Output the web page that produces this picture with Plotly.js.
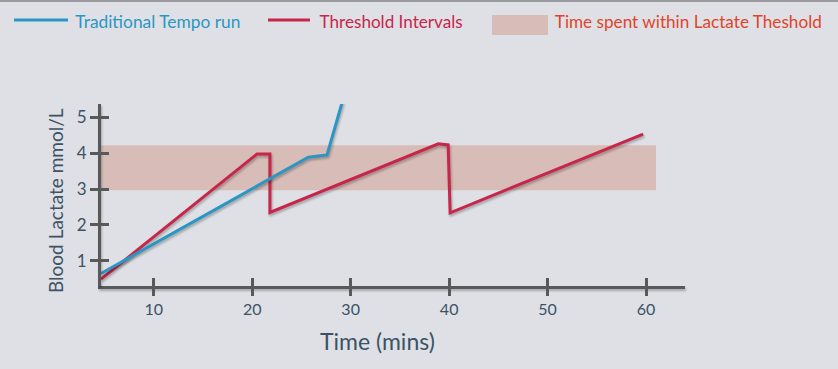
<!DOCTYPE html>
<html>
<head>
<meta charset="utf-8">
<script src="https://cdn.plot.ly/plotly-3.0.1.min.js"></script>
<style>
html,body{margin:0;padding:0;background:#dfe0e5;}
#chart{width:838px;height:369px;}
#chart .scatterlayer .trace path.js-line{filter:drop-shadow(1.5px 2px 1px rgba(0,0,0,0.28));}
#chart .xlines-above, #chart .ylines-above{filter:drop-shadow(1.5px 2px 1px rgba(0,0,0,0.25));}
</style>
</head>
<body>
<div id="chart"></div>
<script>
// Data
var tempoTime    = [4.65, 25.7, 27.6, 29.15];
var tempoLactate = [0.65, 3.885, 3.95, 5.43];

var intervalTime    = [4.65, 20.5, 21.8, 21.8, 38.9, 39.9, 40.1, 59.7];
var intervalLactate = [0.49, 3.98, 3.98, 2.35, 4.26, 4.23, 2.34, 4.53];

var bandTimeStart = 4.65, bandTimeEnd = 61.0;
var bandLactateLow = 2.97, bandLactateHigh = 4.22;

var xTicks = [10, 20, 30, 40, 50, 60];
var yTicks = [1, 2, 3, 4, 5];

var seriesNames = ['Traditional Tempo run', 'Threshold Intervals', 'Time spent within Lactate Theshold'];

var blue = '#2a96c4', red = '#c8254a', bandCol = '#d7bcb7', orange = '#e0442a';
var axisCol = '#58595b', textCol = '#3b5365';

var L = 101, R = 685, T = 104, B = 286, W = 838, H = 369;
function px(x){ return (x - L) / (R - L); }
function py(y){ return (B - y) / (B - T); }

var traces = [
  {x: intervalTime, y: intervalLactate, mode: 'lines', name: seriesNames[1],
   line: {color: red, width: 3}, hoverinfo: 'x+y'},
  {x: tempoTime, y: tempoLactate, mode: 'lines', name: seriesNames[0],
   line: {color: blue, width: 3}, hoverinfo: 'x+y'},
  {x: [], y: [], xaxis: 'x2', yaxis: 'y2', showlegend: false, hoverinfo: 'skip'}
];

var legendFont = "Lato, 'Open Sans', sans-serif";
var legendWidths = [165, 143, 267];
var legendCenters = [157.5, 390.5, 688.5];
var legendColors = [blue, red, orange];

var legendAnns = seriesNames.map(function(name, i){
  return {text: name, xref: 'paper', yref: 'paper', x: px(legendCenters[i]), y: py(21),
    xanchor: 'center', yanchor: 'middle', align: 'center',
    showarrow: false, font: {family: legendFont, size: 17, color: legendColors[i]}};
});

var layout = {
  width: W, height: H,
  paper_bgcolor: '#dfe0e5', plot_bgcolor: 'rgba(0,0,0,0)',
  margin: {l: L, r: W - R, t: T, b: H - B, pad: 0},
  showlegend: false,
  xaxis: {range: [4.65, 63.95], tickvals: xTicks, ticktext: xTicks.map(String),
    ticks: 'outside', ticklen: 7, tickwidth: 3, tickcolor: axisCol,
    showline: true, linecolor: axisCol, linewidth: 3, showgrid: false, zeroline: false,
    tickfont: {family: 'Lato, Open Sans, sans-serif', size: 16, color: textCol},
    fixedrange: true},
  yaxis: {range: [0.30, 5.37], tickvals: yTicks, ticktext: yTicks.map(String),
    ticks: 'outside', ticklen: 8, tickwidth: 3, tickcolor: axisCol,
    showline: true, linecolor: axisCol, linewidth: 3, showgrid: false, zeroline: false,
    tickfont: {family: 'Lato, Open Sans, sans-serif', size: 17, color: textCol},
    fixedrange: true},
  xaxis2: {overlaying: 'x', matches: 'x', anchor: 'y2', tickvals: xTicks,
    ticks: 'inside', ticklen: 8, tickwidth: 3, tickcolor: axisCol,
    showticklabels: false, showline: false, showgrid: false, zeroline: false},
  yaxis2: {overlaying: 'y', matches: 'y', anchor: 'x2', tickvals: yTicks,
    ticks: 'inside', ticklen: 8, tickwidth: 3, tickcolor: axisCol,
    showticklabels: false, showline: false, showgrid: false, zeroline: false},
  shapes: [
    {type: 'rect', xref: 'x', yref: 'y', x0: bandTimeStart, x1: bandTimeEnd,
     y0: bandLactateLow, y1: bandLactateHigh, fillcolor: bandCol, line: {width: 0}, layer: 'below'},
    // legend swatches
    {type: 'line', xref: 'paper', yref: 'paper', x0: px(14), x1: px(68), y0: py(20), y1: py(20),
     line: {color: blue, width: 3}},
    {type: 'line', xref: 'paper', yref: 'paper', x0: px(268), x1: px(310), y0: py(20), y1: py(20),
     line: {color: red, width: 3}},
    {type: 'rect', xref: 'paper', yref: 'paper', x0: px(492), x1: px(548), y0: py(35), y1: py(15),
     fillcolor: bandCol, line: {width: 0}},
    // top border
    {type: 'line', xref: 'paper', yref: 'paper', x0: px(0), x1: px(838), y0: py(1), y1: py(1),
     line: {color: '#9a9a9e', width: 2}}
  ],
  annotations: legendAnns.concat([
    {text: 'Time (mins)', xref: 'paper', yref: 'paper', x: px(377), y: py(341), xanchor: 'center', yanchor: 'middle',
     showarrow: false, font: {family: 'Lato, Open Sans, sans-serif', size: 23, color: textCol}},
    {text: 'Blood Lactate mmol/L', xref: 'paper', yref: 'paper', x: px(55), y: py(201), xanchor: 'center', yanchor: 'middle',
     textangle: -90, showarrow: false, font: {family: 'Lato, Open Sans, sans-serif', size: 19, color: textCol}}
  ])
};

Plotly.newPlot('chart', traces, layout, {displayModeBar: false, staticPlot: true}).then(function(gd){
  // condense legend texts to the narrow width of the original typeface
  var texts = gd.querySelectorAll('.annotation-text');
  for (var i = 0; i < 3 && i < texts.length; i++) {
    texts[i].setAttribute('textLength', legendWidths[i]);
    texts[i].setAttribute('lengthAdjust', 'spacingAndGlyphs');
  }
});
</script>
</body>
</html>
